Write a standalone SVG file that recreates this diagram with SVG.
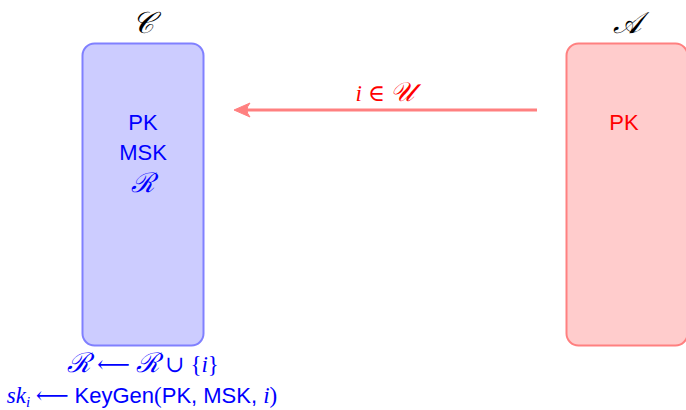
<svg xmlns="http://www.w3.org/2000/svg" width="686" height="410" viewBox="0 0 686 410">
<style>
.sans{font-family:"Liberation Sans",Arial,sans-serif;font-size:22px;text-anchor:middle}
.math{font-family:"Liberation Serif","DejaVu Serif",serif;font-size:23px;font-style:italic;text-anchor:middle}
.cal{font-family:"DejaVu Serif","Liberation Serif",serif;font-style:italic;font-size:30px;text-anchor:middle}
.blue{fill:#0000ff}
.red{fill:#ff0000}
.ss{font-family:"Liberation Sans",Arial,sans-serif;font-style:normal;font-size:22px}
.up{font-style:normal}
.sc{font-size:27px}
</style>
<g id="challenger">
<rect x="82.5" y="43.5" width="121" height="302" rx="12" fill="#ccccff" stroke="#8080ff" stroke-width="2"/>
<text class="cal" x="143" y="33" fill="#000">𝒞</text>
<text class="sans blue" x="143" y="130">PK</text>
<text class="sans blue" x="143" y="160">MSK</text>
<text class="cal blue" x="143" y="192" style="font-size:27px">ℛ</text>
<text class="math blue" x="143" y="372"><tspan class="sc">ℛ</tspan><tspan class="up"> ⟵ </tspan><tspan class="sc">ℛ</tspan><tspan class="up"> ∪ {</tspan>i<tspan class="up">}</tspan></text>
<text class="math blue" x="142" y="403">sk<tspan font-size="15" dy="4">i</tspan><tspan dy="-4" class="up"> ⟵ </tspan><tspan class="ss">KeyGen</tspan><tspan class="up">(</tspan><tspan class="ss">PK, MSK, </tspan>i<tspan class="up">)</tspan></text>
</g>
<g id="adversary">
<rect x="566.5" y="43.5" width="121" height="302" rx="12" fill="#ffcccc" stroke="#ff8080" stroke-width="2"/>
<text class="cal" x="627" y="33" fill="#000">𝒜</text>
<text class="sans red" x="624" y="130">PK</text>
</g>
<g id="connectors">
<line x1="537" y1="110" x2="244" y2="110" stroke="#ff8080" stroke-width="3"/>
<path d="M234,110 L250,103 Q244,110 250,117 Z" fill="#ff8080" stroke="#ff8080" stroke-width="1" stroke-linejoin="round"/>
<text class="math red" x="385" y="101">i<tspan class="up"> ∈ </tspan><tspan class="sc">𝒰</tspan></text>
</g>
</svg>
